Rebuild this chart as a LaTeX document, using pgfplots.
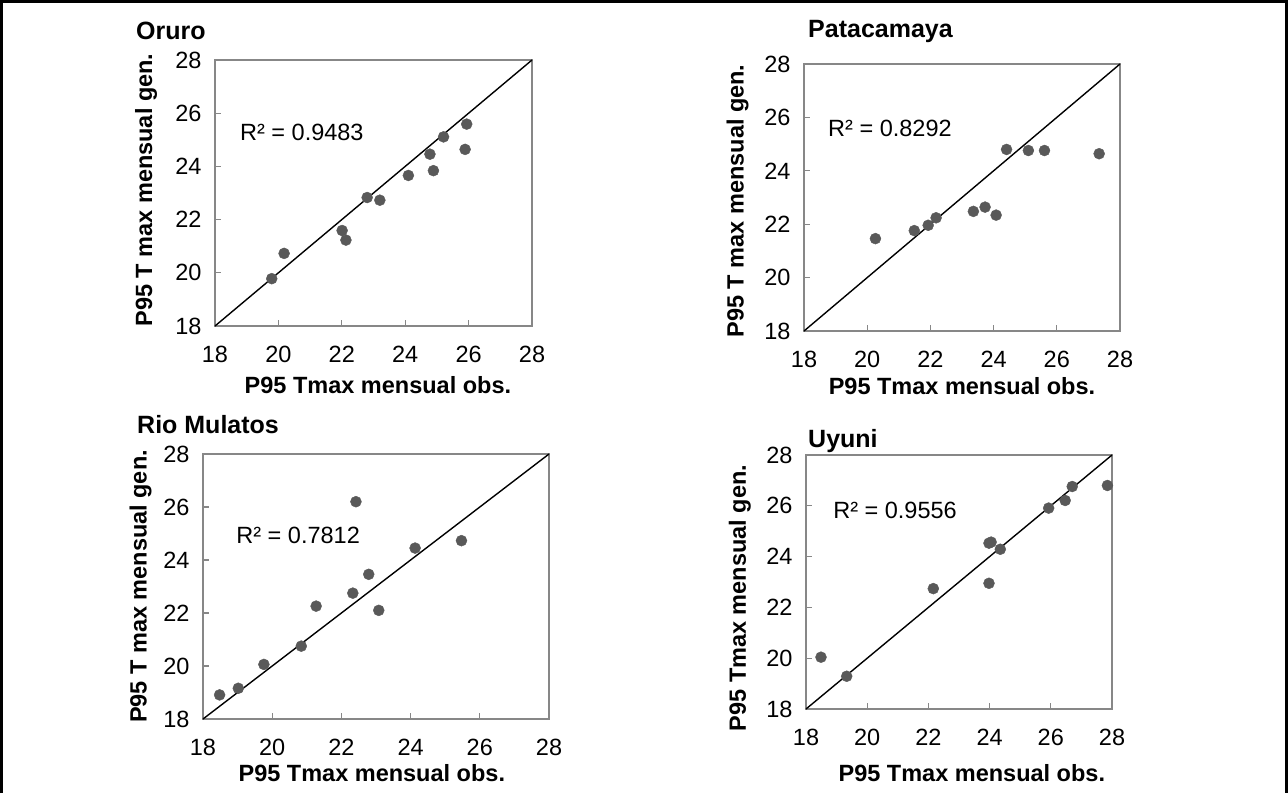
\documentclass[border=0pt]{standalone}
\usepackage{fontspec}
\setmainfont{Liberation Sans}
\usepackage{pgfplots}
\pgfplotsset{compat=1.18}
\definecolor{mk}{HTML}{595959}
\definecolor{ax}{HTML}{878787}
\tikzset{r2/.style={font=\fontsize{23.5}{25}\selectfont, anchor=center},
  lab/.style={font=\fontsize{23.5}{25}\selectfont\bfseries, anchor=center},
  ttl/.style={anchor=west, inner sep=0pt, font=\fontsize{25}{27}\selectfont\bfseries}}
\pgfplotsset{
 panel/.style={
  scale only axis,
  anchor=south west,
  xmin=18,xmax=28,ymin=18,ymax=28,
  xtick={18,20,...,28}, ytick={18,20,...,28},
  axis line style={ax, line width=1.2pt},
  tick style={ax, line width=1.2pt},
  major tick length=6pt,
  tick align=inside,
  xtick pos=bottom, ytick pos=left,
  /pgf/number format/assume math mode=true,
  ticklabel style={font=\fontsize{23.5}{25}\selectfont},
  xticklabel style={yshift=-17pt},
  yticklabel style={xshift=-10pt},
  clip=false,
 },
 pts/.style={only marks, mark=*, mark size=5.5pt, mark options={fill=mk, draw=mk}},
 diag/.style={black, line width=1.4pt},
}
\begin{document}
\begin{tikzpicture}
\useasboundingbox (0,0) rectangle (1288pt,-793pt);
\draw[line width=2.6pt] (1.3pt,-793pt) -- (1.3pt,-1.3pt) -- (1286.5pt,-1.3pt) -- (1286.5pt,-793pt);

% Oruro
\begin{axis}[panel, at={(215pt,-326pt)}, width=317pt, height=266pt,
  xlabel={P95 Tmax mensual obs.}, ylabel={P95 T max mensual gen.},
  every axis x label/.style={at={(axis description cs:0.514,-0.222)}, lab},
  every axis y label/.style={at={(axis description cs:-0.217,0.511)}, rotate=90, lab}]
\addplot[pts] table {
x y
19.79 19.78
20.18 20.73
22.01 21.59
22.13 21.23
22.80 22.83
23.20 22.73
24.10 23.66
24.78 24.46
24.89 23.84
25.21 25.11
25.94 25.59
25.89 24.64
};
\addplot[diag] coordinates {(18,18) (28,28)};
\node[r2] at (rel axis cs:0.274,0.729) {R² = 0.9483};
\end{axis}

% Patacamaya
\begin{axis}[panel, at={(804pt,-331pt)}, width=316pt, height=267pt,
  xlabel={P95 Tmax mensual obs.}, ylabel={P95 T max mensual gen.},
  every axis x label/.style={at={(axis description cs:0.5,-0.206)}, lab},
  every axis y label/.style={at={(axis description cs:-0.21,0.487)}, rotate=90, lab}]
\addplot[pts] table {
x y
20.26 21.46
21.49 21.76
21.93 21.96
22.18 22.24
23.36 22.48
23.73 22.64
24.08 22.34
24.41 24.80
25.10 24.76
25.61 24.76
27.34 24.64
};
\addplot[diag] coordinates {(18,18) (28,28)};
\node[r2] at (rel axis cs:0.272,0.757) {R² = 0.8292};
\end{axis}

% Rio Mulatos
\begin{axis}[panel, at={(203pt,-719pt)}, width=346pt, height=265pt,
  xlabel={P95 Tmax mensual obs.}, ylabel={P95 T max mensual gen.},
  every axis x label/.style={at={(axis description cs:0.488,-0.204)}, lab},
  every axis y label/.style={at={(axis description cs:-0.18,0.5)}, rotate=90, lab}]
\addplot[pts] table {
x y
18.48 18.91
19.02 19.16
19.76 20.06
20.84 20.75
21.27 22.26
22.33 22.75
22.42 26.20
22.79 23.46
23.08 22.10
24.13 24.45
25.47 24.73
};
\addplot[diag] coordinates {(18,18) (28,28)};
\node[r2] at (rel axis cs:0.275,0.694) {R² = 0.7812};
\end{axis}

% Uyuni
\begin{axis}[panel, at={(806pt,-709pt)}, width=306pt, height=254pt,
  xlabel={P95 Tmax mensual obs.}, ylabel={P95 Tmax mensual gen.},
  every axis x label/.style={at={(axis description cs:0.542,-0.252)}, lab},
  every axis y label/.style={at={(axis description cs:-0.216,0.437)}, rotate=90, lab}]
\addplot[pts] table {
x y
18.49 20.04
19.33 19.29
22.16 22.74
23.98 22.95
23.98 24.53
24.05 24.57
24.35 24.29
25.93 25.91
26.47 26.21
26.70 26.76
27.85 26.80
};
\addplot[diag] coordinates {(18,18) (28,28)};
\node[r2] at (rel axis cs:0.291,0.783) {R² = 0.9556};
\end{axis}

\node[ttl] at (136pt,-31pt) {Oruro};
\node[ttl] at (808pt,-31pt) {Patacamaya};
\node[ttl] at (137pt,-425pt) {Rio Mulatos};
\node[ttl] at (808pt,-441pt) {Uyuni};
\end{tikzpicture}
\end{document}
